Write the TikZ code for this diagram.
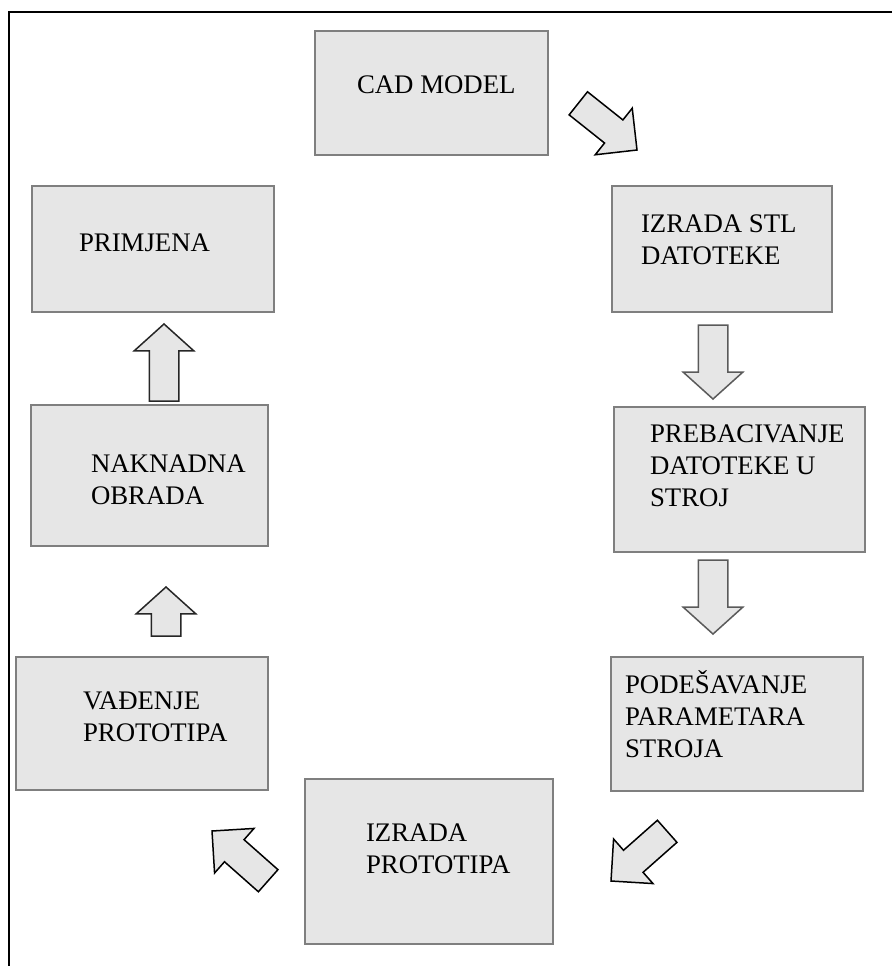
\documentclass[tikz,border=0pt]{standalone}
\usepackage{fontspec}
\setmainfont{Liberation Serif}
\usetikzlibrary{shapes.arrows}
\definecolor{boxfill}{HTML}{E6E6E6}
\definecolor{boxline}{HTML}{7F7F7F}
\definecolor{arrline}{HTML}{5A5A5A}
\newcommand{\boxtxt}[1]{\parbox[t]{300pt}{\raggedright #1}}
\begin{document}
\begin{tikzpicture}[x=1pt,y=-1pt,
  box/.style={draw=boxline, fill=boxfill, line width=1.6pt, inner sep=0pt, outer sep=0pt, anchor=north west},
  lbl/.style={anchor=base west, inner sep=0pt, outer sep=0pt, font=\fontsize{26.8pt}{32pt}\selectfont},
  barrow/.style={single arrow, draw=black, fill=boxfill, line width=1.5pt, inner xsep=0pt, inner ysep=14pt, outer sep=0pt,
    single arrow head extend=15pt, minimum width=0pt, anchor=tip, line join=miter},
  darrow/.style={barrow, single arrow tip angle=90},
  varrow/.style={barrow, draw=arrline, single arrow tip angle=96},
  uarrow/.style={barrow, draw=black!85, single arrow tip angle=96}
]
\useasboundingbox (0,0) rectangle (892,966);
\draw[line width=2.5pt] (892,12) -- (9,12) -- (9,966);

% boxes
\node[box, minimum width=233pt, minimum height=124pt] (cad)  at (315,31)  {};
\node[box, minimum width=220pt, minimum height=126pt] (stl)  at (612,186) {};
\node[box, minimum width=251pt, minimum height=145pt] (preb) at (614,407) {};
\node[box, minimum width=252pt, minimum height=134pt] (pod)  at (611,657) {};
\node[box, minimum width=248pt, minimum height=165pt] (izp)  at (305,779) {};
\node[box, minimum width=252pt, minimum height=133pt] (vad)  at (16,657)  {};
\node[box, minimum width=237pt, minimum height=141pt] (nak)  at (31,405)  {};
\node[box, minimum width=242pt, minimum height=126pt] (prim) at (32,186)  {};

% texts
\node[lbl] (tcad)  at (357,93)  {\boxtxt{CAD MODEL}};
\node[lbl] (tstl)  at (641,232) {\boxtxt{IZRADA STL\\DATOTEKE}};
\node[lbl] (tpreb) at (650,442) {\boxtxt{PREBACIVANJE\\DATOTEKE U\\STROJ}};
\node[lbl] (tpod)  at (625,693) {\boxtxt{PODEŠAVANJE\\PARAMETARA\\STROJA}};
\node[lbl] (tizp)  at (366,841) {\boxtxt{IZRADA\\PROTOTIPA}};
\node[lbl] (tvad)  at (83,709)  {\boxtxt{VAĐENJE\\PROTOTIPA}};
\node[lbl] (tnak)  at (91,472)  {\boxtxt{NAKNADNA\\OBRADA}};
\node[lbl] (tprim) at (79,251)  {\boxtxt{PRIMJENA}};

% block arrows
\node[darrow, minimum height=75pt, rotate=-38.5] (a1) at (637,150) {};
\node[varrow, minimum height=74pt, rotate=-90]   (a2) at (713,399) {};
\node[varrow, minimum height=74pt, rotate=-90]   (a3) at (713,634) {};
\node[darrow, minimum height=75pt, rotate=221.5] (a4) at (611,881) {};
\node[darrow, minimum height=75pt, rotate=138.5] (a5) at (212,831) {};
\node[uarrow, minimum height=49pt, rotate=90]    (a6) at (166,587) {};
\node[uarrow, minimum height=77pt, rotate=90]    (a7) at (164,324) {};
\end{tikzpicture}
\end{document}
